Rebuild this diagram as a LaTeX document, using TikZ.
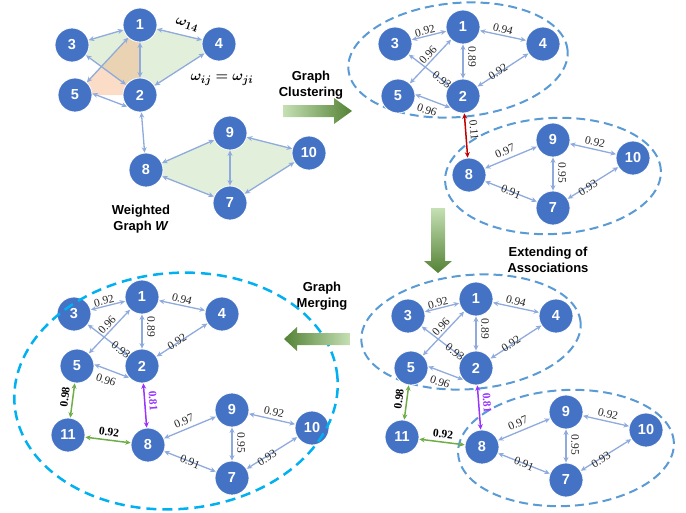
\documentclass[tikz,border=0pt]{standalone}
\usepackage{fontspec}
\setmainfont{Liberation Serif}
\setsansfont{Liberation Sans}
\usepackage{bm}
\usetikzlibrary{arrows.meta}
\pgfdeclarelayer{bg}
\pgfsetlayers{bg,main}
\definecolor{nodeblue}{HTML}{4472C4}
\definecolor{edgeblue}{HTML}{8FAADC}
\definecolor{ellblue}{HTML}{5B9BD5}
\definecolor{bigell}{HTML}{00B0F0}
\definecolor{redE}{HTML}{C00000}
\definecolor{greenE}{HTML}{70AD47}
\definecolor{purpE}{HTML}{9933FF}
\definecolor{lightG}{HTML}{C5E0B4}
\definecolor{darkG}{HTML}{548235}
\definecolor{fillG}{HTML}{E2EFDA}
\definecolor{fillO}{HTML}{F4B183}
\definecolor{lblgray}{HTML}{262626}
\newcommand\omegaA{$\bm{\omega_{14}}$}
\newcommand\omegaB{$\bm{\omega_{ij}=\omega_{ji}}$}
\newif\ifshowclell
\showclelltrue
\tikzset{
 vtx/.style={circle, fill=nodeblue, draw=white, line width=0.8pt, minimum size=34pt, inner sep=0pt, text=white, font=\sffamily\bfseries\fontsize{14.5}{14.5}\selectfont},
 tipstyle/.style={{Stealth[length=5.5pt,width=5pt]}-{Stealth[length=5.5pt,width=5pt]}},
 wedge/.style={draw=edgeblue, line width=1.3pt, tipstyle},
 redge/.style={draw=redE, line width=1.5pt, tipstyle},
 gedge/.style={draw=greenE, line width=1.5pt, tipstyle},
 pedge/.style={draw=purpE, line width=1.5pt, tipstyle},
 lbl/.style={font=\fontsize{11.5}{11.5}\selectfont, text=lblgray, inner sep=0pt},
 blbl/.style={font=\bfseries\fontsize{11.5}{11.5}\selectfont, text=black, inner sep=0pt},
 ttl/.style={font=\sffamily\bfseries\fontsize{13}{15.5}\selectfont, align=center, inner sep=0pt},
 omg/.style={font=\fontsize{15}{15}\selectfont, inner sep=0pt},
 clell/.style={draw=ellblue, line width=2pt, dash pattern=on 9pt off 5pt},
 bigellstyle/.style={draw=bigell, line width=2.5pt, dash pattern=on 10pt off 6pt},
}
\newcommand\clusterA{%
 \node[vtx] (n1) at (463,27) {1};
 \node[vtx] (n3) at (395,44) {3};
 \node[vtx] (n4) at (543,44) {4};
 \node[vtx] (n5) at (398,96) {5};
 \node[vtx] (n2) at (463,96) {2};
 \draw[wedge] (n3) -- (n1);
 \draw[wedge] (n1) -- (n4);
 \draw[wedge] (n1) -- (n2);
 \draw[wedge] (n1) -- (n5);
 \draw[wedge] (n3) -- (n2);
 \draw[wedge] (n2) -- (n4);
 \draw[wedge] (n5.5) -- (n2.222);
 \node[lbl, rotate=14] (l31) at (425,31) {0.92};
 \node[lbl, rotate=-15] (l14) at (503,29) {0.94};
 \node[lbl, rotate=-90] (l12) at (472,57) {0.89};
 \node[lbl, rotate=47] (l15) at (428,55) {0.96};
 \node[lbl, rotate=-37] (l32) at (442,80) {0.93};
 \node[lbl, rotate=33] (l24) at (498,72) {0.92};
 \node[lbl, rotate=-18] (l52) at (427,110) {0.96};
 \ifshowclell
 \begin{pgfonlayer}{bg}
  \begin{scope}[shift={(458,60)}, rotate=5]
   \draw[clell] (0,0) ellipse [x radius=110pt, y radius=57pt];
  \end{scope}
 \end{pgfonlayer}
 \fi
}
\newcommand\clusterB{%
 \node[vtx] (n9) at (553,140) {9};
 \node[vtx] (n10) at (633,158) {10};
 \node[vtx] (n8) at (469,175) {8};
 \node[vtx] (n7) at (553,208) {7};
 \draw[wedge] (n8) -- (n9);
 \draw[wedge] (n9) -- (n10);
 \draw[wedge] (n9) -- (n7);
 \draw[wedge] (n8) -- (n7);
 \draw[wedge] (n7) -- (n10);
 \node[lbl, rotate=23] (l89) at (505,151) {0.97};
 \node[lbl, rotate=-13] (l910) at (595,142) {0.92};
 \node[lbl, rotate=-90] (l97) at (562,173) {0.95};
 \node[lbl, rotate=-21] (l87) at (511,192) {0.91};
 \node[lbl, rotate=32] (l710) at (588,188) {0.93};
 \ifshowclell
 \begin{pgfonlayer}{bg}
  \begin{scope}[shift={(553,176)}, rotate=3]
   \draw[clell] (0,0) ellipse [x radius=108pt, y radius=58pt];
  \end{scope}
 \end{pgfonlayer}
 \fi
}
\newcommand\mergeEdges{%
 \node[vtx] (n11) at (389,165) {11};
 \draw[gedge] (n5) -- (n11);
 \draw[gedge] (n11) -- (n8);
 \draw[pedge] (n2) -- (n8);
 \node[blbl, rotate=83] (l511) at (386,127) {0.98};
 \node[blbl, rotate=-7] (l118) at (430,162) {0.92};
 \node[blbl, rotate=-86, text=purpE] (l28) at (474,131) {0.81};
}
\begin{document}
\begin{tikzpicture}[x=1pt, y=-1pt]
\useasboundingbox (0,0) rectangle (686,512);
% ---------- top-left weighted graph ----------
\node[vtx] (a1) at (140,25) {1};
\node[vtx] (a3) at (72,45) {3};
\node[vtx] (a4) at (219,44) {4};
\node[vtx] (a5) at (75,95) {5};
\node[vtx] (a2) at (140,95) {2};
\node[vtx] (a9) at (230,133) {9};
\node[vtx] (a10) at (309,153) {10};
\node[vtx] (a8) at (146,170) {8};
\node[vtx] (a7) at (230,203) {7};
\begin{pgfonlayer}{bg}
 \fill[fillG] (a1.center) -- (a4.center) -- (a2.center) -- (a3.center) -- cycle;
 \fill[fillO, opacity=0.45] (a1.center) -- (a2.center) -- (a5.center) -- cycle;
 \fill[fillG] (a8.center) -- (a9.center) -- (a10.center) -- (a7.center) -- cycle;
\end{pgfonlayer}
\draw[wedge] (a3) -- (a1);
\draw[wedge] (a1) -- (a4);
\draw[wedge] (a1) -- (a2);
\draw[wedge] (a1) -- (a5);
\draw[wedge] (a3) -- (a2);
\draw[wedge] (a2) -- (a4);
\draw[wedge] (a5.5) -- (a2.222);
\draw[wedge] (a2) -- (a8);
\draw[wedge] (a8) -- (a9);
\draw[wedge] (a9) -- (a10);
\draw[wedge] (a9) -- (a7);
\draw[wedge] (a8) -- (a7);
\draw[wedge] (a7) -- (a10);
\node[omg, rotate=-18] (w14) at (187,25) {\omegaA};
\node[omg] (wij) at (222,80) {\omegaB};
\node[ttl] (tW) at (141,219) {Weighted\\Graph \textit{W}};
% ---------- top-right: clustering ----------
\begin{scope}[name prefix=tr-]
 \clusterA
 \clusterB
 \draw[redge] (n2) -- (n8);
 \node[lbl, rotate=-85] (l28) at (474,130) {0.11};
\end{scope}
% ---------- bottom-right: extended associations ----------
\begin{scope}[shift={(13,272)}, name prefix=br-]
 \clusterA
 \clusterB
 \mergeEdges
\end{scope}
% ---------- bottom-left: merged graph ----------
\showclellfalse
\begin{scope}[shift={(-321,270)}, name prefix=bl-]
 \clusterA
 \clusterB
 \mergeEdges
\end{scope}
\begin{scope}[shift={(176,391)}, rotate=5]
 \draw[bigellstyle] (0,0) ellipse [x radius=162pt, y radius=118pt];
\end{scope}
% ---------- process arrows ----------
\shade[left color=lightG, right color=darkG] (283,105) -- (334,105) -- (334,98) -- (352,111) -- (334,124) -- (334,117) -- (283,117) -- cycle;
\node[ttl] (tclu) at (311,85) {Graph\\Clustering};
\shade[top color=lightG, bottom color=darkG] (431,208) -- (445,208) -- (445,261) -- (452,261) -- (438,273) -- (424,261) -- (431,261) -- cycle;
\node[ttl] (tassoc) at (548,260) {Extending of\\Associations};
\shade[left color=darkG, right color=lightG] (350,333) -- (297,333) -- (297,327) -- (284,339) -- (297,351) -- (297,345) -- (350,345) -- cycle;
\node[ttl] (tmer) at (322,296) {Graph\\Merging};
\end{tikzpicture}
\end{document}
